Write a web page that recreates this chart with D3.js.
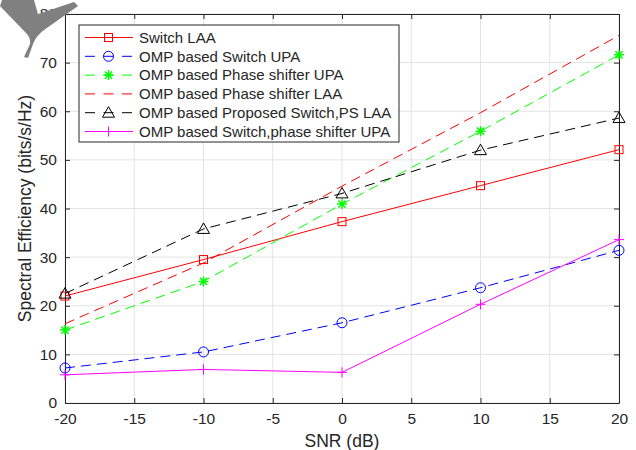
<!DOCTYPE html>
<html>
<head>
<meta charset="utf-8">
<script src="https://cdn.jsdelivr.net/npm/d3@7"></script>
<style>
  body { margin: 0; background: #fff; }
  svg text { font-family: "Liberation Sans", Arial, sans-serif; fill: #262626; }
</style>
</head>
<body>
<div id="chart"></div>
<script>
// data
const snr = [-20, -10, 0, 10, 20];
const switchLAA = [22, 29.5, 37.3, 44.7, 52.1];
const switchUPA = [7.2, 10.5, 16.5, 23.7, 31.4];
const psUPA = [15, 25, 40.9, 55.9, 71.6];
const psLAA = [16.3, 28.8, 44.6, 59.7, 75.6];
const proposedLAA = [22.5, 35.8, 43.1, 52, 58.6];
const switchPsUPA = [5.8, 6.9, 6.3, 20.3, 33.6];

const xTicks = [-20, -15, -10, -5, 0, 5, 10, 15, 20];
const yTicks = [0, 10, 20, 30, 40, 50, 60, 70, 80];

const series = [
  { name: "Switch LAA", values: switchLAA, color: "#ff0000", dash: null, marker: "square" },
  { name: "OMP based Switch UPA", values: switchUPA, color: "#0000ff", dash: "10,6", marker: "circle" },
  { name: "OMP based Phase shifter UPA", values: psUPA, color: "#00ff00", dash: "10,6", marker: "star" },
  { name: "OMP based Phase shifter LAA", values: psLAA, color: "#ff0000", dash: "10,6", marker: null },
  { name: "OMP based Proposed Switch,PS LAA", values: proposedLAA, color: "#000000", dash: "10,6", marker: "triangle" },
  { name: "OMP based Switch,phase shifter UPA", values: switchPsUPA, color: "#ff00ff", dash: null, marker: "plus" },
];

const W = 636, H = 450;
const pLeft = 65, pRight = 619, pTop = 14, pBottom = 403;

const svg = d3.select("#chart").append("svg")
  .attr("width", W).attr("height", H);

const x = d3.scaleLinear().domain([-20, 20]).range([pLeft, pRight]);
const y = d3.scaleLinear().domain([0, 80]).range([pBottom, pTop]);

// grid
const grid = svg.append("g").attr("stroke", "#e3e3e3").attr("stroke-width", 1);
grid.selectAll(".gx").data(xTicks).join("line")
  .attr("x1", d => x(d)).attr("x2", d => x(d)).attr("y1", pTop).attr("y2", pBottom);
grid.selectAll(".gy").data(yTicks).join("line")
  .attr("y1", d => y(d)).attr("y2", d => y(d)).attr("x1", pLeft).attr("x2", pRight);

// axes, ticks inward, box on (plain hyphen minus like matlab)
const fmt = d => String(d);
svg.append("g").attr("transform", `translate(0,${pBottom})`)
  .call(d3.axisBottom(x).tickValues(xTicks).tickFormat(fmt).tickSizeInner(-5).tickSizeOuter(0).tickPadding(10));
svg.append("g").attr("transform", `translate(${pLeft},0)`)
  .call(d3.axisLeft(y).tickValues(yTicks).tickFormat(fmt).tickSizeInner(-5).tickSizeOuter(0).tickPadding(8));
svg.append("g").attr("transform", `translate(0,${pTop})`)
  .call(d3.axisTop(x).tickValues(xTicks).tickSizeInner(-5).tickSizeOuter(0).tickFormat(""));
svg.append("g").attr("transform", `translate(${pRight},0)`)
  .call(d3.axisRight(y).tickValues(yTicks).tickSizeInner(-5).tickSizeOuter(0).tickFormat(""));
svg.selectAll(".domain").attr("stroke", "#262626");
svg.selectAll(".tick line").attr("stroke", "#262626");
svg.selectAll(".tick text").style("font-size", "15.5px").attr("fill", "#262626");

svg.append("text").attr("x", (pLeft + pRight) / 2).attr("y", 447)
  .attr("text-anchor", "middle").style("font-size", "17.5px").text("SNR (dB)");
svg.append("text").attr("transform", `translate(31,${(pTop + pBottom) / 2}) rotate(-90)`)
  .attr("text-anchor", "middle").style("font-size", "17.5px").text("Spectral Efficiency (bits/s/Hz)");

function drawMarker(g, type, color) {
  if (type === "square") {
    g.append("rect").attr("x", -4).attr("y", -4).attr("width", 8).attr("height", 8)
      .attr("fill", "none").attr("stroke", color);
  } else if (type === "circle") {
    g.append("circle").attr("r", 5).attr("fill", "none").attr("stroke", color);
  } else if (type === "triangle") {
    g.append("path").attr("d", "M0,-6L6,4.5L-6,4.5Z").attr("fill", "none").attr("stroke", color);
  } else if (type === "plus") {
    g.append("path").attr("d", "M-5,0H5M0,-5V5").attr("stroke", color);
  } else if (type === "star") {
    g.append("path").attr("d", "M-5,0H5M0,-5V5M-3.6,-3.6L3.6,3.6M-3.6,3.6L3.6,-3.6")
      .attr("stroke", color).attr("stroke-width", 1.5);
  }
}

const line = d3.line().x((d, i) => x(snr[i])).y(d => y(d));

series.forEach(s => {
  svg.append("path").datum(s.values)
    .attr("d", line).attr("fill", "none")
    .attr("stroke", s.color).attr("stroke-width", 1)
    .attr("stroke-dasharray", s.dash);
  if (s.marker) {
    s.values.forEach((v, i) => {
      const g = svg.append("g").attr("transform", `translate(${x(snr[i])},${y(v)})`);
      drawMarker(g, s.marker, s.color);
    });
  }
});

// legend
const legend = svg.append("g");
legend.append("rect").attr("x", 79).attr("y", 25).attr("width", 320).attr("height", 117)
  .attr("fill", "#fff").attr("stroke", "#262626");
series.forEach((s, i) => {
  const ly = 37.5 + i * 18.8;
  legend.append("line").attr("x1", 85).attr("x2", 133).attr("y1", ly).attr("y2", ly)
    .attr("stroke", s.color).attr("stroke-dasharray", s.dash ? "10,8.5" : null);
  if (s.marker) {
    const g = legend.append("g").attr("transform", `translate(108.5,${ly})`);
    drawMarker(g, s.marker, s.color);
  }
  legend.append("text").attr("x", 139).attr("y", ly).attr("dy", "0.35em")
    .style("font-size", "15px").attr("fill", "#000").text(s.name);
});

// grey mark in the top-left corner
svg.append("path")
  .attr("d", "M2,0L34,0L38,14L74,2L78,6L44,30Q36,36 33,44L28,58L24,57L30,44Q31,38 26,33L0,6Z")
  .attr("fill", "#808080");
</script>
</body>
</html>
